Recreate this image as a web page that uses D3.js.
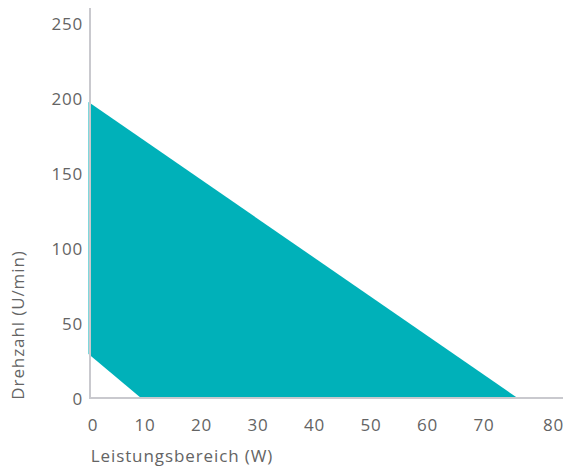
<!DOCTYPE html>
<html><head><meta charset="utf-8">
<script src="https://cdn.jsdelivr.net/npm/d3@7"></script>
<style>
html,body{margin:0;padding:0;background:#fff;}
svg text{font-family:"Open Sans","Noto Sans",sans-serif;fill:#646464;font-weight:400;}
</style></head>
<body><svg id="c" width="571" height="468"></svg>
<script>
// Data
const xTicks = [0, 10, 20, 30, 40, 50, 60, 70, 80];
const yTicks = [0, 50, 100, 150, 200, 250];
const areaX = [0, 76.2, 9.5, 0];      // Leistung (W)
const areaY = [198, 0, 0, 30];        // Drehzahl (U/min)
const xTitle = "Leistungsbereich (W)";
const yTitle = "Drehzahl (U/min)";

const svg = d3.select("#c");
const x = d3.scaleLinear().domain([0, 80]).range([88.5, 540.5]);
const y = d3.scaleLinear().domain([0, 250]).range([399, 24]);

// area polygon
const pts = areaX.map((v, i) => [x(v), y(areaY[i])]);
svg.append("path")
  .attr("d", d3.line()(pts) + "Z")
  .attr("fill", "#00b1b9");

// axes lines
svg.append("line").attr("x1", 90).attr("x2", 90).attr("y1", 8).attr("y2", 399)
  .attr("stroke", "#c9c9ce").attr("stroke-width", 2);
svg.append("line").attr("x1", 89).attr("x2", 563).attr("y1", 398).attr("y2", 398)
  .attr("stroke", "#c9c9ce").attr("stroke-width", 2);

const fs = 17;
// y tick labels
svg.append("g").selectAll("text").data(yTicks).join("text")
  .attr("x", 83).attr("y", d => y(d)).attr("dy", "0.36em")
  .attr("text-anchor", "end").attr("font-size", fs).attr("letter-spacing", 0.8)
  .text(d => d);

// x tick labels
const xOffset = d => d === 0 ? 4.5 : (d === 80 ? 13 : 0);
svg.append("g").selectAll("text").data(xTicks).join("text")
  .attr("x", d => x(d) + xOffset(d)).attr("y", 431)
  .attr("text-anchor", "middle").attr("font-size", fs).attr("letter-spacing", 0.8)
  .text(d => d);

// titles
svg.append("text").attr("x", 182).attr("y", 462).attr("text-anchor", "middle")
  .attr("font-size", fs).attr("letter-spacing", 0.9).text(xTitle);
svg.append("text").attr("transform", "translate(24,325) rotate(-90)")
  .attr("text-anchor", "middle").attr("font-size", fs).attr("letter-spacing", 0.9).text(yTitle);
</script></body></html>
